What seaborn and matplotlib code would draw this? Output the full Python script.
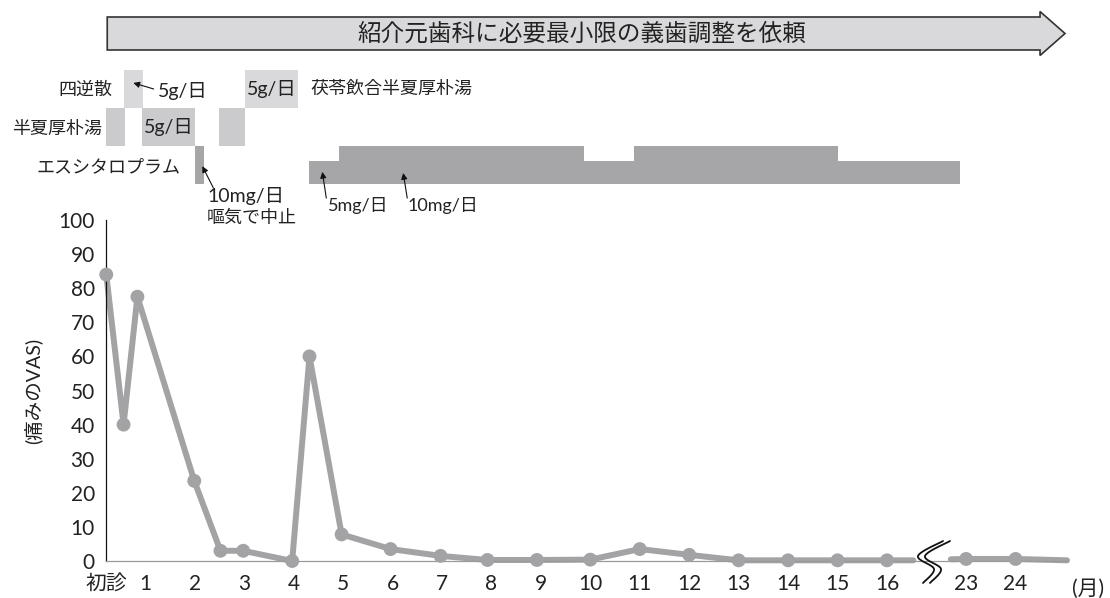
import numpy as np
import pandas as pd
import matplotlib
matplotlib.use("Agg")
import matplotlib.pyplot as plt
import seaborn as sns
from matplotlib.patches import FancyArrow

# ---------------- data ----------------
visit_month = [0.21, 0.56, 0.84, 1.99, 2.52, 2.98, 3.97, 4.32, 4.97, 5.96,
               6.97, 7.92, 8.92, 10.0, 11.0, 12.0, 13.0, 14.0, 15.0, 16.0,
               23.0, 24.0]
vas = [84, 40, 77.5, 23.5, 3, 3, 0, 60, 7.8, 3.5,
       1.5, 0.3, 0.3, 0.4, 3.5, 1.8, 0.2, 0.2, 0.2, 0.2,
       0.6, 0.6]
# line continues (without marker) up to the axis break and after it
line_end_before_break = (16.53, 0.2)
line_start_after_break = (22.69, 0.5)
line_end = (25.04, 0.2)

tick_months = [0.21, 1, 2, 3, 4, 5, 6, 7, 8, 9, 10, 11, 12, 13, 14, 15, 16, 23, 24]
tick_labels = ["初診", "1", "2", "3", "4", "5", "6", "7", "8", "9", "10",
               "11", "12", "13", "14", "15", "16", "23", "24"]
y_ticks = list(range(0, 101, 10))

# drug periods (start month, end month)
shigyakusan = [(0.56, 0.95)]
bukuryo_hange = [(3.02, 4.09)]
hange_koboku = [(0.19, 0.58), (0.94, 2.01), (2.50, 3.02)]
# escitalopram (start, end, dose mg)
escitalopram = [(2.01, 2.19, 10), (4.32, 4.92, 5), (4.92, 9.88, 10),
                (9.88, 10.89, 5), (10.89, 15.01, 10), (15.01, 22.88, 5)]

# ---------------- axis break mapping ----------------
SHIFT = 5.4  # months hidden by the break (16 -> 23)


def pos(m):
    m = np.asarray(m, dtype=float)
    return np.where(m > 20, m - SHIFT, m)


# ---------------- style ----------------
sns.set_theme(style="white")
plt.rcParams["font.family"] = ["Lato", "Noto Sans CJK JP", "DejaVu Sans"]
TXT = "#222222"
LINE = "#a3a3a6"

W, H = 1110, 598
fig = plt.figure(figsize=(W / 100, H / 100), dpi=100)

ax_l, ax_r, ax_b, ax_t = 106, 1067, 561, 220
ax = fig.add_axes([ax_l / W, 1 - ax_b / H, (ax_r - ax_l) / W, (ax_b - ax_t) / H])
xlim = (0.205, 19.64)

# main line
seg1 = pd.DataFrame({"x": pos(visit_month[:20] + [line_end_before_break[0]]),
                     "y": vas[:20] + [line_end_before_break[1]]})
seg2 = pd.DataFrame({"x": pos([line_start_after_break[0]] + visit_month[20:] + [line_end[0]]),
                     "y": [line_start_after_break[1]] + vas[20:] + [line_end[1]]})
for seg in (seg1, seg2):
    sns.lineplot(data=seg, x="x", y="y", ax=ax, color=LINE, lw=4.3,
                 sort=False, estimator=None, clip_on=False)
pts = pd.DataFrame({"x": pos(visit_month), "y": vas})
sns.scatterplot(data=pts, x="x", y="y", ax=ax, color=LINE, s=100,
                edgecolor="none", clip_on=False, zorder=5)

ax.set_xlim(*xlim)
ax.set_ylim(0, 100)
ax.set_yticks(y_ticks)
ax.set_yticklabels([str(v) for v in y_ticks], fontsize=15, color=TXT)
ax.set_xticks(pos(tick_months))
ax.set_xticklabels(tick_labels, fontsize=15, color=TXT)
ax.tick_params(axis="both", length=0)
ax.tick_params(axis="y", pad=8)
ax.tick_params(axis="x", pad=9)
ax.set_xlabel("")
ax.set_ylabel("(痛みのVAS)", fontsize=14, color=TXT)
ax.yaxis.set_label_coords(-0.066, 0.5)
for s in ("top", "right"):
    ax.spines[s].set_visible(False)
ax.spines["left"].set_color("#111111")
ax.spines["left"].set_linewidth(0.9)
ax.spines["bottom"].set_color("#9a9a9a")
ax.spines["bottom"].set_linewidth(0.9)
ax.grid(False)
ax.text(20.07, -0.082, "(月)", transform=ax.get_xaxis_transform(), fontsize=15,
        color=TXT, ha="center", va="center", clip_on=False)

# break symbol (two wavy lines)
px_x = (ax_r - ax_l) / (xlim[1] - xlim[0])
px_y = (ax_b - ax_t) / 100.0
cx = (pos(line_end_before_break[0]) + pos(line_start_after_break[0])) / 2
pts_c = np.array([(14, -21), (-11, -6), (5, 7), (-6, 21)], dtype=float)


def catmull(p, n=30):
    p = np.vstack([p[0], p, p[-1]])
    out = []
    for i in range(1, len(p) - 2):
        p0, p1, p2, p3 = p[i - 1], p[i], p[i + 1], p[i + 2]
        t = np.linspace(0, 1, n)[:, None]
        out.append(0.5 * ((2 * p1) + (-p0 + p2) * t + (2 * p0 - 5 * p1 + 4 * p2 - p3) * t ** 2
                          + (-p0 + 3 * p1 - 3 * p2 + p3) * t ** 3))
    return np.vstack(out)


curve = catmull(pts_c)
for off in (0, 7):
    ax.plot(cx + (curve[:, 0] + off - 3) / px_x, -(curve[:, 1] + 1) / px_y,
            color="#111111", lw=1.3, clip_on=False, zorder=6)

# ---------------- top panel (drugs + referral arrow) ----------------
top_px = 220
axt = fig.add_axes([ax_l / W, 1 - top_px / H, (ax_r - ax_l) / W, top_px / H])
axt.set_xlim(*xlim)
row_px, row0_px = 38, 70
axt.set_ylim((top_px - row0_px) / row_px, (0 - row0_px) / row_px)
axt.axis("off")

C0, C1, C2 = "#d9d9db", "#cbcbcd", "#a6a6a9"


def period_bar(s, e, row_bottom, h, color):
    axt.bar(x=float(pos(s)), height=h, width=float(pos(e) - pos(s)),
            bottom=row_bottom, align="edge", color=color, lw=0)


for s, e in shigyakusan + bukuryo_hange:
    period_bar(s, e, 0, 1, C0)
for s, e in hange_koboku:
    period_bar(s, e, 1, 1, C1)
dose_h = {10: 1.0, 5: 0.6}
for s, e, d in escitalopram:
    h = dose_h[d]
    period_bar(s, e, 3 - h, h, C2)

fs = 13
axt.text(0.334, 0.52, "四逆散", ha="right", va="center", fontsize=fs, color=TXT)
axt.text(0.13, 1.55, "半夏厚朴湯", ha="right", va="center", fontsize=fs, color=TXT)
axt.text(1.71, 2.55, "エスシタロプラム", ha="right", va="center", fontsize=fs, color=TXT)
axt.text(4.34, 0.5, "茯苓飲合半夏厚朴湯", ha="left", va="center", fontsize=fs, color=TXT)
axt.text(float(np.mean(pos(bukuryo_hange[0]))), 0.5, "5g/日", ha="center", va="center",
         fontsize=fs + 1, color=TXT)
axt.text(float(np.mean(pos(hange_koboku[1]))), 1.5, "5g/日", ha="center", va="center",
         fontsize=fs + 1, color=TXT)

arrow_kw = dict(arrowstyle="-|>", lw=0.8, color="#111111", mutation_scale=9,
                shrinkA=0, shrinkB=0)
axt.text(1.263, 0.55, "5g/日", ha="left", va="center", fontsize=fs + 1, color=TXT)
axt.annotate("", xy=(0.758, 0.34), xytext=(1.17, 0.5), arrowprops=arrow_kw, annotation_clip=False)
axt.annotate("", xy=(2.153, 2.53), xytext=(2.375, 3.1), arrowprops=arrow_kw, annotation_clip=False)
axt.text(2.25, 3.32, "10mg/日", ha="left", va="center", fontsize=fs + 1, color=TXT)
axt.text(2.25, 3.88, "嘔気で中止", ha="left", va="center", fontsize=fs, color=TXT)
axt.annotate("", xy=(4.58, 2.68), xytext=(4.66, 3.37), arrowprops=arrow_kw, annotation_clip=False)
axt.text(4.70, 3.57, "5mg/日", ha="left", va="center", fontsize=fs, color=TXT)
axt.annotate("", xy=(6.216, 2.71), xytext=(6.297, 3.37), arrowprops=arrow_kw, annotation_clip=False)
axt.text(6.297, 3.57, "10mg/日", ha="left", va="center", fontsize=fs, color=TXT)

# referral arrow
y_c = (33.5 - row0_px) / row_px
body_w = 33 / row_px
head_w = 44 / row_px
x0, x1 = float(pos(0.23)), float(pos(25.0))
head_len = 25 / px_x
arr = FancyArrow(x0, y_c, x1 - x0, 0, width=body_w, head_width=head_w,
                 head_length=head_len, length_includes_head=True,
                 facecolor="#d9d9db", edgecolor="#333333", lw=1.2, clip_on=False)
axt.add_patch(arr)
axt.text(9.83, y_c, "紹介元歯科に必要最小限の義歯調整を依頼", ha="center", va="center",
         fontsize=17, color=TXT)

fig.savefig("out.png", dpi=100)
